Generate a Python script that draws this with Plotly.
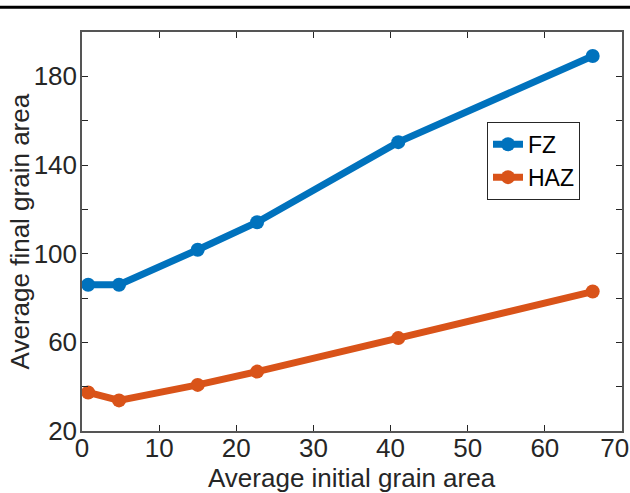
import plotly.graph_objects as go

x_fz = [0.8, 4.8, 15, 22.7, 41, 66.2]
y_fz = [86, 86, 101.8, 114.2, 150.3, 189.2]
x_haz = [0.8, 4.8, 15, 22.7, 41, 66.2]
y_haz = [37.4, 33.8, 40.8, 46.8, 61.9, 82.9]
x_ticks = [0, 10, 20, 30, 40, 50, 60, 70]
x_ticktext = ["0", "10", "20", "30", "40", "50", "60", "70\u00a0\u00a0"]
y_ticks = [20, 40, 60, 80, 100, 120, 140, 160, 180, 200]
y_ticktext = ["20", "", "60", "", "100", "", "140", "", "180", ""]
x_title = "Average initial grain area"
y_title = "Average final grain area"

FZ_C = "#0072BD"
HAZ_C = "#D95319"
AX_C = "#555555"
TXT_C = "#262626"
FONT = "Liberation Sans, Arial, sans-serif"
FS = 26

fig = go.Figure()
fig.add_trace(go.Scatter(x=x_fz, y=y_fz, mode="lines+markers", name="FZ",
                         line=dict(color=FZ_C, width=7),
                         marker=dict(color=FZ_C, size=14)))
fig.add_trace(go.Scatter(x=x_haz, y=y_haz, mode="lines+markers", name="HAZ",
                         line=dict(color=HAZ_C, width=7),
                         marker=dict(color=HAZ_C, size=14)))

axis_common = dict(showgrid=False, zeroline=False, showline=True, linecolor=AX_C,
                   linewidth=1.5, mirror="ticks", ticks="inside", ticklen=6,
                   tickcolor=TXT_C, tickwidth=1, ticklabeloverflow="allow",
                   automargin=False,
                   tickfont=dict(family=FONT, size=FS, color=TXT_C))

fig.update_xaxes(range=[0, 70], tickvals=x_ticks, ticktext=x_ticktext,
                 ticklabelstandoff=-7, **axis_common)
fig.update_yaxes(range=[20, 200], tickvals=y_ticks, ticktext=y_ticktext,
                 ticklabelstandoff=-2, **axis_common)

fig.add_annotation(text=x_title, xref="paper", yref="paper", x=0.5, y=-0.119,
                   xanchor="center", yanchor="middle", showarrow=False,
                   font=dict(family=FONT, size=FS, color=TXT_C))
fig.add_annotation(text=y_title, xref="paper", yref="paper", x=-0.115, y=0.5,
                   xanchor="center", yanchor="middle", showarrow=False, textangle=-90,
                   font=dict(family=FONT, size=FS, color=TXT_C))

fig.add_shape(type="line", xref="paper", yref="paper",
              x0=-0.16, x1=1.02, y0=1.062, y1=1.062,
              line=dict(color="black", width=3))

fig.update_layout(
    width=630, height=493,
    margin=dict(l=82, r=8, t=32, b=62),
    plot_bgcolor="white", paper_bgcolor="white",
    font=dict(family=FONT, size=FS, color=TXT_C),
    legend=dict(x=0.75, y=0.775, xanchor="left", yanchor="top",
                bgcolor="white", bordercolor=TXT_C, borderwidth=1,
                font=dict(family=FONT, size=23, color="black"),
                itemwidth=30, tracegroupgap=0),
    showlegend=True,
)

fig.write_html("out.html")
